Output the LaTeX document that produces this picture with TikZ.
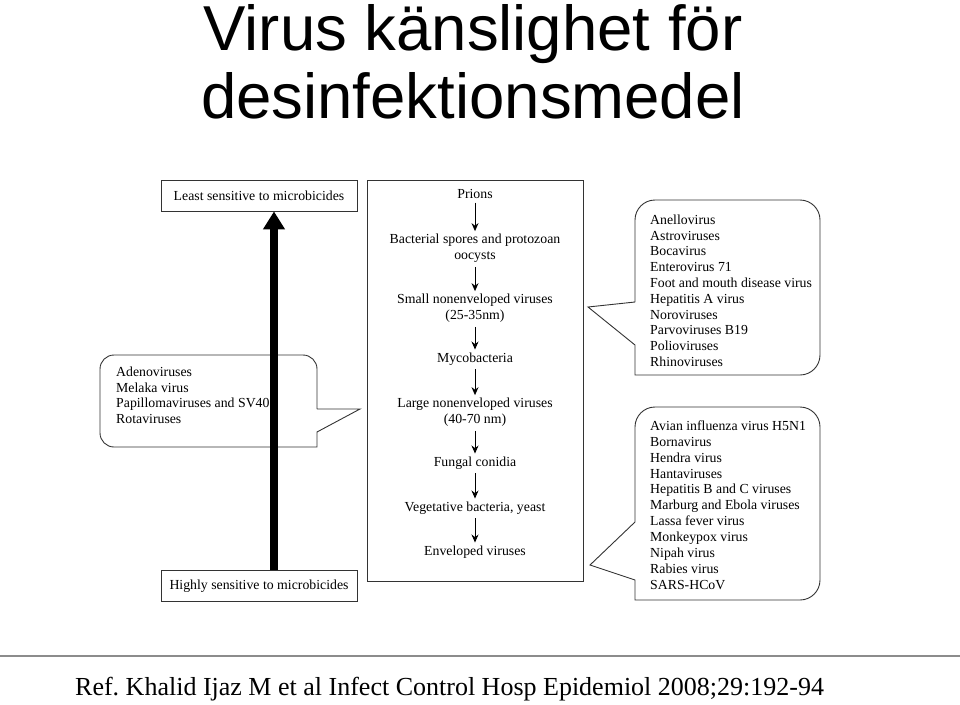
\documentclass[tikz,border=0pt]{standalone}
\usepackage{fontspec}
\setmainfont{Liberation Serif}
\newfontfamily\titlefont{Liberation Sans}
\usetikzlibrary{arrows.meta,calc}
\frenchspacing
\begin{document}
\begin{tikzpicture}[x=1pt,y=-1pt,
  txt/.style={font=\fontsize{13.8}{15.8}\selectfont, inner sep=0pt, align=center},
  ltxt/.style={font=\fontsize{13.8}{15.8}\selectfont, inner sep=0pt, anchor=mid west},
  lbox/.style={draw=black!80, line width=0.9pt, minimum width=196pt, minimum height=31pt, inner sep=0pt, font=\fontsize{13.8}{15.8}\selectfont},
  callout/.style={draw=black!80, line width=0.9pt},
  flow/.style={-{Stealth[length=8pt,width=7pt]}, line width=0.9pt, shorten <=4pt, shorten >=3pt},
]
\useasboundingbox (0,0) rectangle (960,704);

% title
\node[anchor=base, inner sep=0pt, font=\titlefont\fontsize{63.5}{68}\selectfont] (t1) at (473,50) {Virus känslighet för};
\node[anchor=base, inner sep=0pt, font=\titlefont\fontsize{63.5}{68}\selectfont] (t2) at (473,118) {desinfektionsmedel};

% left boxes
\node[lbox] (least) at (259,195.5) {Least sensitive to microbicides};
\node[lbox] (high) at (259,586) {Highly sensitive to microbicides};

% central box
\node[draw=black!80, line width=0.9pt, minimum width=216pt, minimum height=401pt, inner sep=0pt] (cbox) at (475,380.5) {};

\node[txt, anchor=mid] (n1) at (475,196) {Prions};
\node[txt] (n2) at (475,248.5) {Bacterial spores and protozoan\\oocysts};
\node[txt] (n3) at (475,308.5) {Small nonenveloped viruses\\(25-35nm)};
\node[txt, anchor=mid] (n4) at (475,360) {Mycobacteria};
\node[txt] (n5) at (475,412.5) {Large nonenveloped viruses\\(40-70 nm)};
\node[txt, anchor=mid] (n6) at (475,464) {Fungal conidia};
\node[txt, anchor=mid] (n7) at (475,509) {Vegetative bacteria, yeast};
\node[txt, anchor=mid] (n8) at (475,553) {Enveloped viruses};

\foreach \a/\b in {n1/n2,n2/n3,n3/n4,n4/n5,n5/n6,n6/n7,n7/n8}
  \draw[flow] (\a.south) -- (\b.north);

% left callout
\draw[callout] (317,409) -- (360,409) -- (317,432) -- (317,447) [rounded corners=14pt] -- (100,447) -- (100,355) -- (317,355) -- (317,409);
\node[ltxt] (l1) at (116,374) {Adenoviruses};
\node[ltxt] (l2) at (116,389.8) {Melaka virus};
\node[ltxt] (l3) at (116,405.6) {Papillomaviruses and SV40};
\node[ltxt] (l4) at (116,421.4) {Rotaviruses};

% thick arrow
\draw[line width=8pt, -{Triangle[length=18pt,width=21pt]}] (274,0 |- high.north) -- (274,0 |- least.south);

% right callout 1
\draw[callout] (635,302) -- (588,307) -- (635,345) -- (635,375) [rounded corners=20pt] -- (820,375) -- (820,200) -- (635,200) -- (635,302);
\foreach \t [count=\i from 0] in {Anellovirus,Astroviruses,Bocavirus,Enterovirus 71,Foot and mouth disease virus,Hepatitis A virus,Noroviruses,Parvoviruses B19,Polioviruses,Rhinoviruses}
  \node[ltxt] (r1-\i) at (650,222+15.8*\i) {\t};

% right callout 2
\draw[callout] (635,522) -- (590,565) -- (635,580) -- (635,600) [rounded corners=20pt] -- (820,600) -- (820,407) -- (635,407) -- (635,522);
\foreach \t [count=\i from 0] in {Avian influenza virus H5N1,Bornavirus,Hendra virus,Hantaviruses,Hepatitis B and C viruses,Marburg and Ebola viruses,Lassa fever virus,Monkeypox virus,Nipah virus,Rabies virus,SARS-HCoV}
  \node[ltxt] (r2-\i) at (650,428+15.9*\i) {\t};

% footer
\draw[black!45, line width=2pt] (0,656) coordinate (hl) -- (960,656) coordinate (hr);
\node[anchor=base west, inner sep=0pt, font=\fontsize{26}{30}\selectfont] (ref) at (75,695) {Ref. Khalid Ijaz M et al Infect Control Hosp Epidemiol 2008;29:192-94};
\end{tikzpicture}
\end{document}
